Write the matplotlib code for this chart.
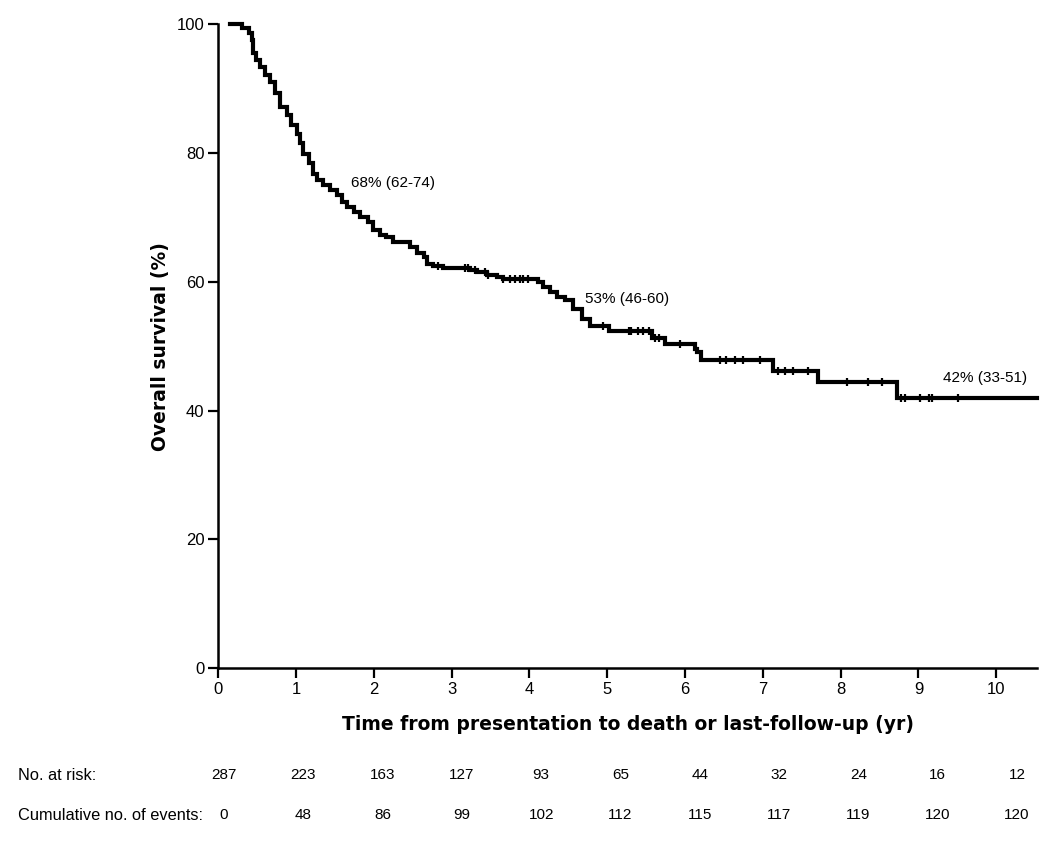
import numpy as np
import matplotlib
matplotlib.use("Agg")
import matplotlib.pyplot as plt

# Kaplan-Meier curve (time in years, survival in %)
km_time = [0.15, 0.30, 0.39, 0.43, 0.44, 0.49, 0.54, 0.60, 0.67, 0.73,
           0.79, 0.88, 0.94, 1.01, 1.05, 1.09, 1.16, 1.22, 1.27, 1.35,
           1.44, 1.52, 1.59, 1.65, 1.74, 1.82, 1.93, 1.99, 2.08, 2.16,
           2.25, 2.46, 2.55, 2.64, 2.68, 2.76, 2.89, 3.24, 3.32, 3.45,
           3.58, 3.66, 4.11, 4.18, 4.26, 4.35, 4.46, 4.56, 4.67, 4.78,
           5.02, 5.57, 5.74, 6.13, 6.15, 6.21, 7.13, 7.71, 8.72, 10.52]
km_surv = [100.0, 99.5, 98.6, 97.6, 95.5, 94.4, 93.4, 92.1, 91.1, 89.3,
           87.2, 85.9, 84.3, 83.0, 81.5, 79.9, 78.4, 76.8, 75.8, 75.0,
           74.2, 73.5, 72.4, 71.6, 70.9, 70.1, 69.3, 68.0, 67.2, 67.0,
           66.2, 65.4, 64.4, 63.9, 62.8, 62.4, 62.1, 61.8, 61.5, 61.0,
           60.7, 60.5, 60.0, 59.2, 58.4, 57.7, 57.1, 55.8, 54.2, 53.2,
           52.4, 51.3, 50.4, 49.6, 49.1, 47.8, 46.2, 44.4, 41.9, 41.9]

# censored observations (years)
censor_time = [2.83, 3.17, 3.21, 3.30, 3.43, 3.47, 3.66, 3.75, 3.81, 3.88,
               3.92, 3.98, 4.95, 5.28, 5.31, 5.40, 5.46, 5.54, 5.61, 5.67,
               5.93, 6.45, 6.53, 6.64, 6.75, 6.96, 7.20, 7.28, 7.39, 7.58,
               8.08, 8.35, 8.53, 8.78, 8.83, 9.02, 9.13, 9.17, 9.51]

# survival estimates printed on the chart
ann_text = ["68% (62-74)", "53% (46-60)", "42% (33-51)"]
ann_x = [1.71, 4.71, 9.32]
ann_y = [75.4, 57.4, 45.1]

# risk table
years = list(range(11))
at_risk = [287, 223, 163, 127, 93, 65, 44, 32, 24, 16, 12]
cum_events = [0, 48, 86, 99, 102, 112, 115, 117, 119, 120, 120]

W, H = 1050, 841
fig = plt.figure(figsize=(W / 100, H / 100), dpi=100)
ax = fig.add_axes([218.3 / W, 1 - 668 / H, (1036.7 - 218.3) / W, (668 - 24.3) / H])

ax.plot(km_time, km_surv, drawstyle="steps-post", color="black", lw=3,
        solid_joinstyle="miter", clip_on=False, zorder=3)

# censor ticks sit on the step level
km_t = np.array(km_time)
km_s = np.array(km_surv)
idx = np.searchsorted(km_t, censor_time, side="right") - 1
ax.plot(censor_time, km_s[idx], ls="none", marker="|", ms=6, mew=1.6,
        color="black", zorder=4)

for t, x, y in zip(ann_text, ann_x, ann_y):
    ax.text(x, y, t, fontsize=11, family="Liberation Sans", ha="left", va="center")

ax.set_xlim(0, 10.52)
ax.set_ylim(0, 100)
ax.set_xticks(years)
ax.set_yticks([0, 20, 40, 60, 80, 100])
for s in ["top", "right"]:
    ax.spines[s].set_visible(False)
for s in ["left", "bottom"]:
    ax.spines[s].set_linewidth(1.8)
ax.tick_params(direction="out", length=7, width=1.6, labelsize=12, pad=3)
for lab in ax.get_xticklabels() + ax.get_yticklabels():
    lab.set_family("Liberation Sans")

ax.set_ylabel("Overall survival (%)", fontsize=13.5, fontweight="bold",
              family="DejaVu Sans", labelpad=5)
ax.set_xlabel("Time from presentation to death or last-follow-up (yr)",
              fontsize=13.5, fontweight="bold", family="DejaVu Sans", labelpad=13)

# number-at-risk table below the axis
row1_y = 1 - 775 / H
row2_y = 1 - 815 / H
fig.text(18 / W, row1_y, "No. at risk:", fontsize=11.8, family="Liberation Sans", va="center")
fig.text(18 / W, row2_y, "Cumulative no. of events:", fontsize=11.8,
         family="Liberation Sans", va="center")
for i in range(len(years)):
    cx = (224 + i * 79.3) / W
    fig.text(cx, row1_y, str(at_risk[i]), fontsize=11, family="Liberation Sans",
             ha="center", va="center")
    fig.text(cx, row2_y, str(cum_events[i]), fontsize=11, family="Liberation Sans",
             ha="center", va="center")

fig.savefig("out.png", dpi=100)
